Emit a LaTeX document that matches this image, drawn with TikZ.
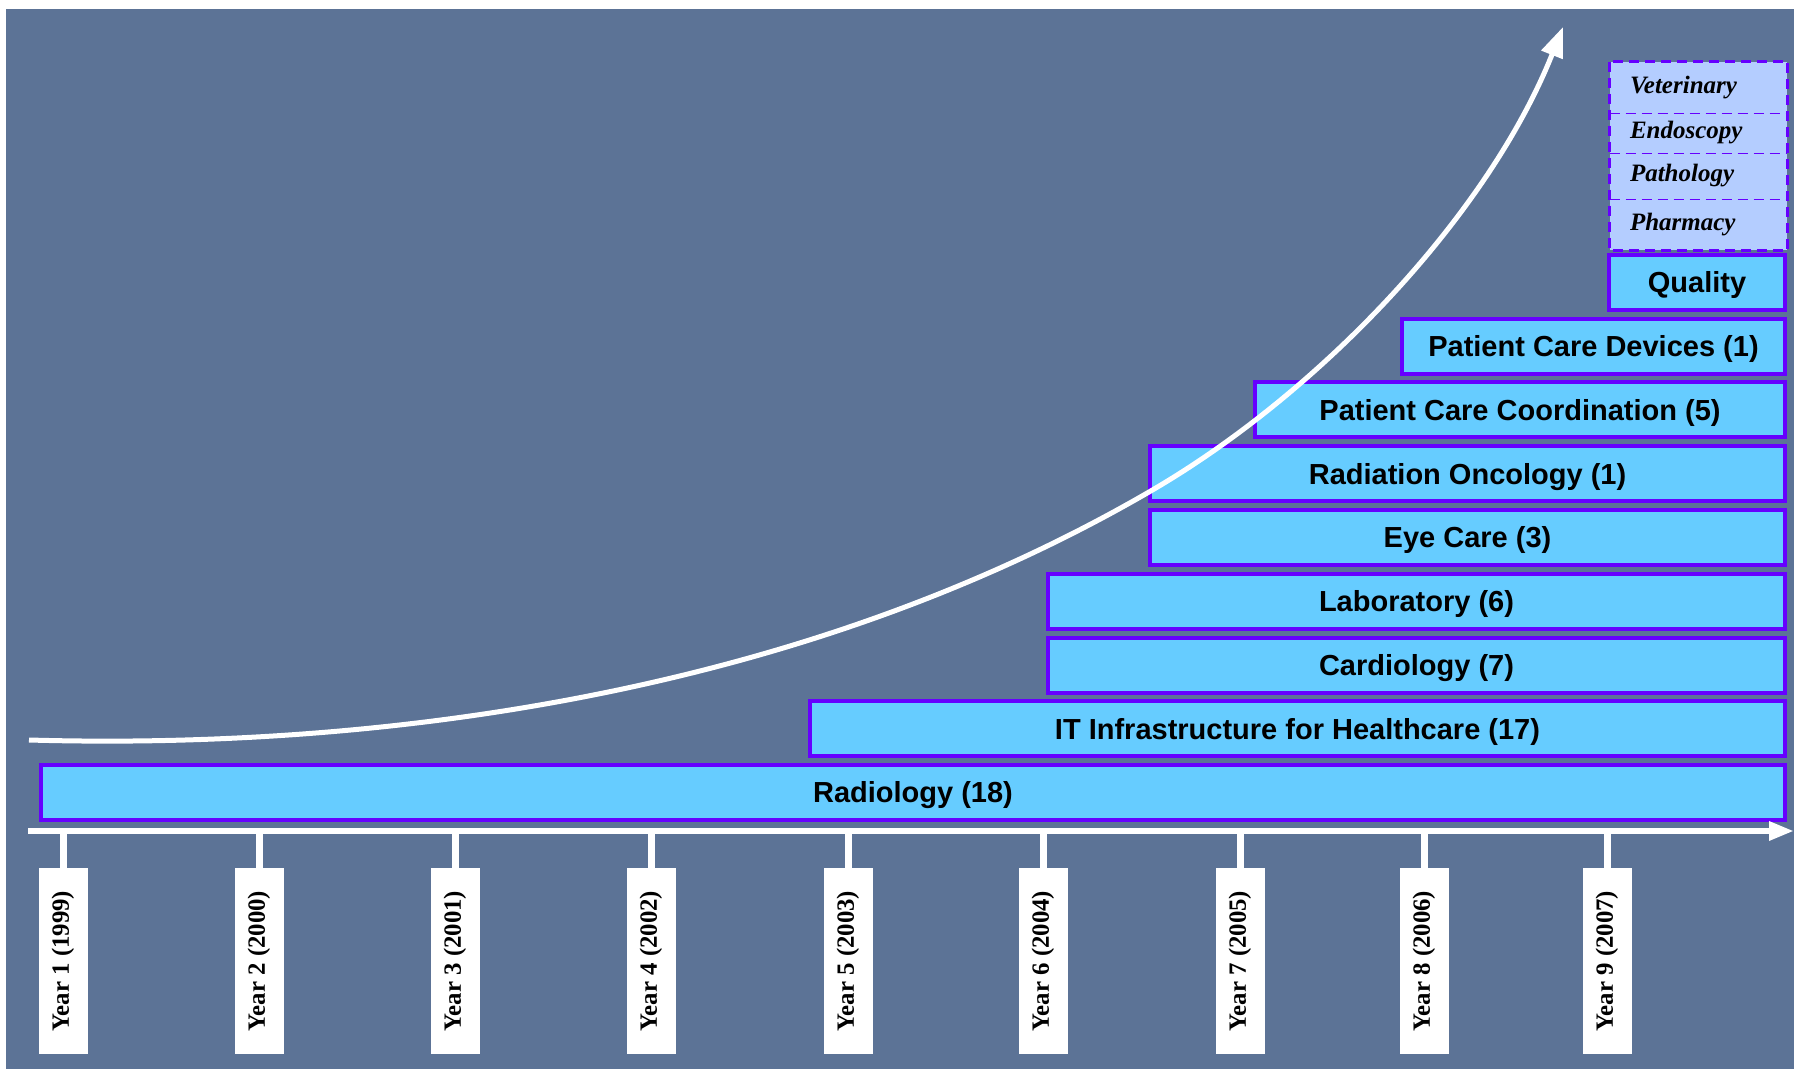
\documentclass[tikz,border=0pt]{standalone}
\usepackage{fontspec}
\setmainfont{Liberation Serif}
\newfontfamily\labelsans{Liberation Sans}
\usetikzlibrary{arrows.meta}
\definecolor{panel}{RGB}{92,115,150}
\definecolor{barfill}{RGB}{102,204,255}
\definecolor{barline}{RGB}{102,0,255}
\definecolor{cellfill}{RGB}{180,205,255}
\begin{document}
\begin{tikzpicture}[x=0.5pt,y=-0.5pt,
  barbox/.style={draw=barline, fill=barfill, line width=2pt, minimum height=27.5pt,
    inner sep=0pt, text height=10.4pt, text depth=0pt,
    font=\labelsans\bfseries\fontsize{14.5}{17}\selectfont},
  yearbox/.style={fill=white, rotate=90, minimum width=93pt, minimum height=24.5pt,
    inner sep=0pt, font=\bfseries\fontsize{12.4}{14}\selectfont},
  tickline/.style={white, line width=3.5pt},
  axisline/.style={white, line width=3pt, -{Triangle[length=12.5pt,width=9pt]}},
  growth/.style={white, line width=2.5pt, -{Triangle[length=15pt,width=11pt]}},
  cell/.style={minimum width=88.5pt, inner xsep=10pt, inner ysep=0pt, text width=68.5pt,
    align=left, font=\bfseries\itshape\fontsize{12.5}{14}\selectfont},
  dashframe/.style={draw=barline, line width=1.2pt, dash pattern=on 5pt off 3pt},
  divider/.style={draw=barline, line width=0.7pt, dash pattern=on 5pt off 3pt}]
\useasboundingbox (0,0) rectangle (1794,1069);
\fill[white] (0,0) rectangle (1794,1069);
\fill[panel] (6,9) rectangle (1794,1069);

% stacked domain bars
\node[barbox, minimum width=872pt]   (rad)  at (913,792.5)  {Radiology (18)};
\node[barbox, minimum width=487.5pt] (iti)  at (1297.5,728.75) {IT Infrastructure for Healthcare (17)};
\node[barbox, minimum width=368.5pt] (card) at (1416.5,665)  {Cardiology (7)};
\node[barbox, minimum width=368.5pt] (lab)  at (1416.5,601.25) {Laboratory (6)};
\node[barbox, minimum width=317.5pt] (eye)  at (1467.5,537.5) {Eye Care (3)};
\node[barbox, minimum width=317.5pt] (rton) at (1467.5,473.75) {Radiation Oncology (1)};
\node[barbox, minimum width=265pt]   (pcc)  at (1520,410)    {Patient Care Coordination (5)};
\node[barbox, minimum width=191.5pt] (pcd)  at (1593.5,346.25) {Patient Care Devices (1)};
\node[barbox, minimum width=88pt]    (qual) at (1697,282.5)  {Quality};

% upcoming domains
\fill[cellfill] (1610,62) rectangle (1787,250);
\node[cell, minimum height=25.5pt] (vet) at (1698.5,87.5)  {Veterinary};
\node[cell, minimum height=20pt]   (endo) at (1698.5,133)  {Endoscopy};
\node[cell, minimum height=23pt]   (path) at (1698.5,176)  {Pathology};
\node[cell, minimum height=25.5pt] (phar) at (1698.5,224.5) {Pharmacy};
\draw[divider] (vet.south west) -- (vet.south east);
\draw[divider] (endo.south west) -- (endo.south east);
\draw[divider] (path.south west) -- (path.south east);
\draw[dashframe] (vet.north west) rectangle (phar.south east);

% time axis
\coordinate (ax0) at (28,831);
\coordinate (ax1) at (1794,831);
\draw[axisline] (ax0) -- (ax1);

% year markers
\foreach \n/\x/\yr in {1/63/1999, 2/259/2000, 3/455/2001, 4/651/2002, 5/848/2003,
                       6/1043/2004, 7/1240/2005, 8/1424/2006, 9/1607/2007} {
  \coordinate (t\n) at (\x,831);
  \node[yearbox] (y\n) at (\x,961) {Year \n\ (\yr)};
  \draw[tickline] (t\n) -- (y\n.east);
}

% growth curve
\coordinate (g0) at (29,740);
\coordinate (gm) at (1149,492);
\coordinate (g1) at (1563,27);
\draw[growth] (g0) .. controls (379,750) and (799,695) .. (gm)
                   .. controls (1322,392) and (1489,213) .. (g1);
\end{tikzpicture}
\end{document}
